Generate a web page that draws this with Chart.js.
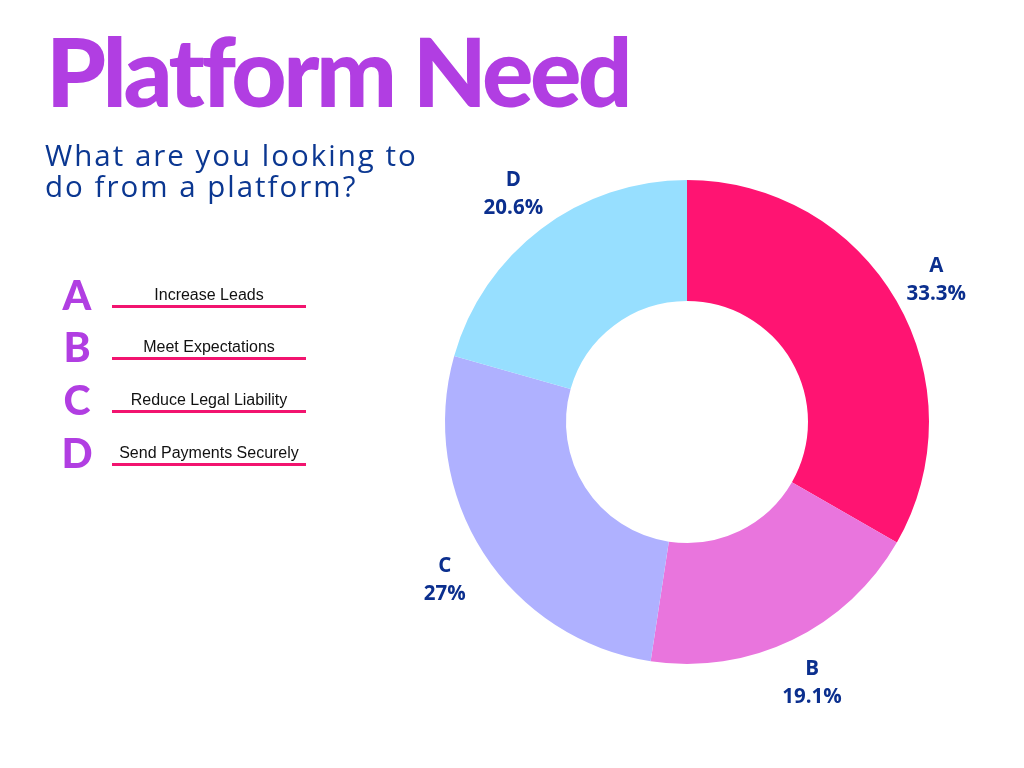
<!DOCTYPE html>
<html>
<head>
<meta charset="utf-8">
<script src="https://cdn.jsdelivr.net/npm/chart.js@4.4.0/dist/chart.umd.min.js"></script>
<style>
  html, body { margin:0; padding:0; background:#fff; width:1024px; height:768px; overflow:hidden; }
  #wrap { position:absolute; left:0; top:0; width:1024px; height:768px; }
  canvas { position:absolute; left:0; top:0; }
  .title { position:absolute; left:46px; top:22px; font-family:Lato, sans-serif; font-weight:900; font-size:96px; color:#B13EE2; letter-spacing:-3.5px; line-height:1; white-space:nowrap; }
  .sub { position:absolute; left:45px; top:139px; font-family:"Open Sans", sans-serif; font-size:29.5px; line-height:31px; color:#0B3791; letter-spacing:2px; white-space:nowrap; }
  .letter { position:absolute; left:59px; width:36px; text-align:center; font-family:Lato, sans-serif; font-weight:900; font-size:41px; color:#B13EE2; line-height:40px; }
  .lab { position:absolute; left:112px; width:194px; text-align:center; font-family:"Liberation Sans", Arial, sans-serif; font-size:16px; color:#111; line-height:18px; }
  .line { position:absolute; left:112px; width:194px; height:3px; background:#F2146F; }
</style>
</head>
<body>
<div id="wrap">
  <canvas id="c" width="1024" height="768"></canvas>
  <div class="title">Platform Need</div>
  <div class="sub">What are you looking to<br>do from a platform?</div>
  <div id="legend"></div>
</div>
<script>
const categories = ["A", "B", "C", "D"];
const descriptions = ["Increase Leads", "Meet Expectations", "Reduce Legal Liability", "Send Payments Securely"];
const values = [33.3, 19.1, 27, 20.6];
const valueLabels = ["33.3%", "19.1%", "27%", "20.6%"];
const colors = ["#FF1472", "#E975DD", "#AFB1FF", "#97DFFF"];

// legend (HTML text)
const legendLines = [304.5, 357, 410, 462.5];
const leg = document.getElementById('legend');
categories.forEach((c, i) => {
  const y = legendLines[i];
  const l = document.createElement('div'); l.className = 'letter'; l.textContent = c; l.style.top = (y - 30) + 'px'; leg.appendChild(l);
  const t = document.createElement('div'); t.className = 'lab'; t.textContent = descriptions[i]; t.style.top = (y - 19) + 'px'; leg.appendChild(t);
  const ln = document.createElement('div'); ln.className = 'line'; ln.style.top = y + 'px'; leg.appendChild(ln);
});

const outsideLabels = {
  id: 'outsideLabels',
  afterDatasetsDraw(chart) {
    const ctx = chart.ctx;
    const meta = chart.getDatasetMeta(0);
    ctx.save();
    ctx.fillStyle = '#0B2F8E';
    ctx.font = 'bold 20.5px "Open Sans", sans-serif';
    ctx.textAlign = 'center';
    ctx.textBaseline = 'middle';
    meta.data.forEach((arc, i) => {
      const p = arc.getProps(['x', 'y', 'startAngle', 'endAngle', 'outerRadius'], true);
      const mid = (p.startAngle + p.endAngle) / 2;
      const r = p.outerRadius + 46;
      const x = p.x + Math.cos(mid) * r;
      const y = p.y + Math.sin(mid) * r;
      ctx.fillText(categories[i], x, y - 12);
      ctx.fillText(valueLabels[i], x, y + 16);
    });
    ctx.restore();
  }
};

new Chart(document.getElementById('c'), {
  type: 'doughnut',
  data: {
    labels: categories,
    datasets: [{ data: values, backgroundColor: colors, borderWidth: 0, hoverOffset: 0 }]
  },
  options: {
    responsive: false,
    animation: false,
    cutout: '50%',
    layout: { padding: { left: 445, right: 95, top: 180, bottom: 104 } },
    plugins: { legend: { display: false }, tooltip: { enabled: false }, title: { display: false } }
  },
  plugins: [outsideLabels]
});
</script>
</body>
</html>
